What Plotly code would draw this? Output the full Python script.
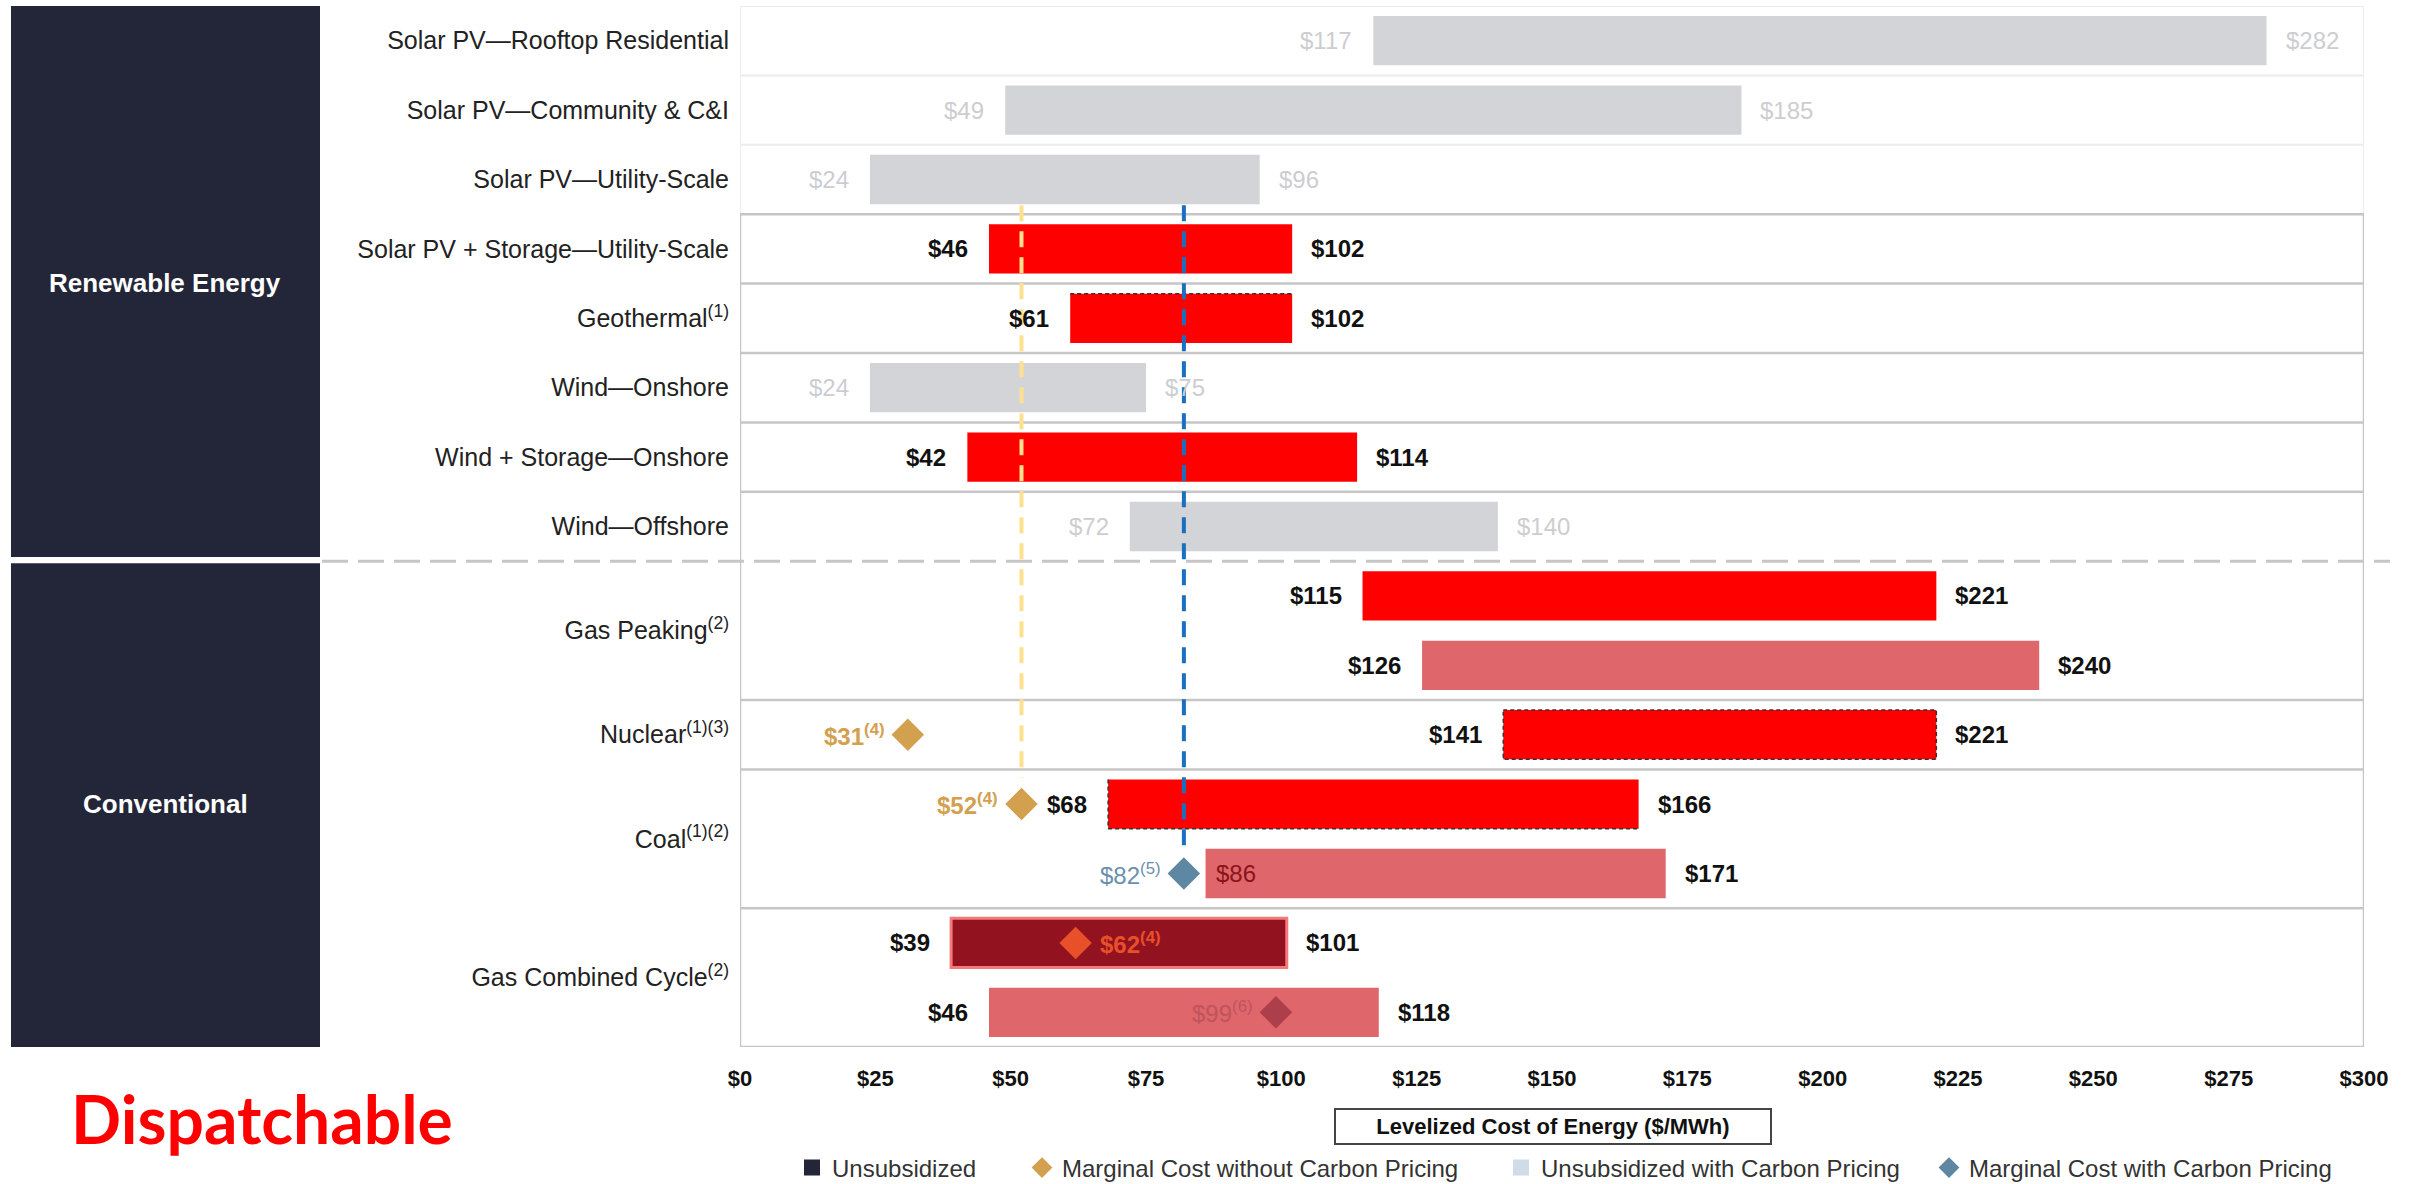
import plotly.graph_objects as go

# ---------------- data ----------------
row_labels = [
    "Solar PV—Rooftop Residential",
    "Solar PV—Community & C&I",
    "Solar PV—Utility-Scale",
    "Solar PV + Storage—Utility-Scale",
    "Geothermal<sup>(1)</sup>",
    "Wind—Onshore",
    "Wind + Storage—Onshore",
    "Wind—Offshore",
    "Gas Peaking<sup>(2)</sup>",
    "Nuclear<sup>(1)(3)</sup>",
    "Coal<sup>(1)(2)</sup>",
    "Gas Combined Cycle<sup>(2)</sup>",
]
row_bar_counts = [1, 1, 1, 1, 1, 1, 1, 1, 2, 1, 2, 2]

bar_low = [117, 49, 24, 46, 61, 24, 42, 72, 115, 126, 141, 68, 86, 39, 46]
bar_high = [282, 185, 96, 102, 102, 75, 114, 140, 221, 240, 221, 166, 171, 101, 118]
bar_kind = ["faded", "faded", "faded", "unsub", "unsub", "faded", "unsub", "faded",
            "unsub", "carbon", "unsub", "unsub", "carbon", "unsub_gcc", "carbon"]

marker_slot = [10, 11, 12, 13, 14]
marker_value = [31, 52, 82, 62, 99]
marker_text = ["$31<sup>(4)</sup>", "$52<sup>(4)</sup>", "$82<sup>(5)</sup>",
               "$62<sup>(4)</sup>", "$99<sup>(6)</sup>"]
marker_kind = ["nocarbon", "nocarbon", "carbon", "nocarbon_gcc", "carbon_gcc"]

x_ticks = [0, 25, 50, 75, 100, 125, 150, 175, 200, 225, 250, 275, 300]
x_ticktext = ["$" + str(v) for v in x_ticks]

legend_names = ["Unsubsidized", "Marginal Cost without Carbon Pricing",
                "Unsubsidized with Carbon Pricing", "Marginal Cost with Carbon Pricing"]

# ---------------- styles ----------------
FONT = "Liberation Sans, Arial, sans-serif"
fill = {"faded": "#d3d4d8", "unsub": "#ff0000", "carbon": "#df666b", "unsub_gcc": "#92121f"}
line_col = {"faded": "#d3d4d8", "unsub": "#ff0000", "carbon": "#df666b", "unsub_gcc": "#f47a7a"}
mk_color = {"nocarbon": "#d3a04f", "carbon": "#5e87a3", "nocarbon_gcc": "#e8502a", "carbon_gcc": "#ad3f4b"}
mk_text_color = {"nocarbon": "#d3a04f", "carbon": "#6a90ab", "nocarbon_gcc": "#e8502a", "carbon_gcc": "#c0545d"}
mk_weight = {"nocarbon": "bold", "carbon": "normal", "nocarbon_gcc": "bold", "carbon_gcc": "normal"}
BAR_W = 0.71
GRID = "#c6c6c6"
FAINT = "#ececec"

# slot positions
slots = list(range(len(bar_low)))
group_centers = []
s = 0
for c in row_bar_counts:
    group_centers.append(s + (c - 1) / 2)
    s += c

fig = go.Figure()

# bars by kind
for kind in ["faded", "unsub", "carbon", "unsub_gcc"]:
    idx = [i for i in slots if bar_kind[i] == kind]
    fig.add_trace(go.Bar(
        orientation="h",
        y=[slots[i] for i in idx],
        base=[bar_low[i] for i in idx],
        x=[bar_high[i] - bar_low[i] for i in idx],
        width=BAR_W,
        marker=dict(color=fill[kind], line=dict(color=line_col[kind], width=3 if kind == "unsub_gcc" else 0)),
        showlegend=False, hoverinfo="skip",
    ))

# diamonds
for kind in ["nocarbon", "carbon", "nocarbon_gcc", "carbon_gcc"]:
    idx = [i for i in range(len(marker_value)) if marker_kind[i] == kind]
    fig.add_trace(go.Scatter(
        x=[marker_value[i] for i in idx], y=[marker_slot[i] for i in idx],
        mode="markers", marker=dict(symbol="diamond", size=25, color=mk_color[kind]),
        showlegend=False, hoverinfo="skip",
    ))

# legend entries (4 separate legends for placement)
leg_styles = [
    dict(symbol="square", color="#232638"),
    dict(symbol="diamond", color="#d3a04f"),
    dict(symbol="square", color="#cfdce7"),
    dict(symbol="diamond", color="#5f87a1"),
]
leg_ids = ["legend", "legend2", "legend3", "legend4"]
leg_px = [792, 1022, 1501, 1929]
for name, st, lid in zip(legend_names, leg_styles, leg_ids):
    fig.add_trace(go.Scatter(
        x=[None], y=[None], mode="markers", name=name, legend=lid,
        marker=dict(symbol=st["symbol"], size=16, color=st["color"]),
        showlegend=True,
    ))

annotations = []
# bar value labels
for i in slots:
    k = bar_kind[i]
    if k == "faded":
        col, wt = "#cdcdd1", "normal"
    else:
        col, wt = "#111111", "bold"
    if k == "carbon" and i == 12:
        annotations.append(dict(x=bar_low[i], y=i, xref="x", yref="y", text="$%d" % bar_low[i],
                                xanchor="left", yanchor="middle", xshift=8, showarrow=False,
                                font=dict(family=FONT, size=24, color="#8a1418")))
    else:
        annotations.append(dict(x=bar_low[i], y=i, xref="x", yref="y", text="$%d" % bar_low[i],
                                xanchor="right", yanchor="middle", xshift=-19, showarrow=False,
                                font=dict(family=FONT, size=24, color=col, weight=wt)))
    annotations.append(dict(x=bar_high[i], y=i, xref="x", yref="y", text="$%d" % bar_high[i],
                            xanchor="left", yanchor="middle", xshift=17, showarrow=False,
                            font=dict(family=FONT, size=24, color=col, weight=wt)))

# marker labels
for i in range(len(marker_value)):
    k = marker_kind[i]
    right = (k == "nocarbon_gcc")
    annotations.append(dict(x=marker_value[i], y=marker_slot[i], xref="x", yref="y",
                            text=marker_text[i], showarrow=False, yanchor="middle",
                            xanchor="left" if right else "right",
                            xshift=22 if right else -21,
                            font=dict(family=FONT, size=24, color=mk_text_color[k], weight=mk_weight[k])))

def px_to_paper_x(px):
    return (px - 740) / 1624.0

def px_to_paper_y(py):
    return (1047 - py) / 1041.0

# section labels
annotations.append(dict(x=px_to_paper_x(165), y=3.49, xref="paper", yref="y",
                        xanchor="center", yanchor="middle",
                        text="Renewable Energy", showarrow=False,
                        font=dict(family=FONT, size=26, color="white", weight="bold")))
annotations.append(dict(x=px_to_paper_x(165), y=11.0, xref="paper", yref="y",
                        xanchor="center", yanchor="middle",
                        text="Conventional", showarrow=False,
                        font=dict(family=FONT, size=26, color="white", weight="bold")))
# axis title box
annotations.append(dict(x=px_to_paper_x(1553), y=px_to_paper_y(1126), xref="paper", yref="paper",
                        xanchor="center", yanchor="middle",
                        text="Levelized Cost of Energy ($/MWh)", showarrow=False,
                        width=434, height=33, bordercolor="#444444", borderwidth=2, borderpad=0,
                        bgcolor="white",
                        font=dict(family=FONT, size=22, color="#111111", weight="bold")))
# Dispatchable
annotations.append(dict(x=px_to_paper_x(262), y=px_to_paper_y(1118), xref="paper", yref="paper",
                        xanchor="center", yanchor="middle",
                        text="Dispatchable", showarrow=False,
                        font=dict(family="Lato, Open Sans, sans-serif", size=66, color="#ff0000",
                                  weight="bold")))

shapes = []
half = BAR_W / 2
# section boxes
shapes.append(dict(type="rect", xref="paper", yref="y", x0=px_to_paper_x(11), x1=px_to_paper_x(320),
                   y0=-0.5, y1=7.44, fillcolor="#232638", line=dict(width=0), layer="below"))
shapes.append(dict(type="rect", xref="paper", yref="y", x0=px_to_paper_x(11), x1=px_to_paper_x(320),
                   y0=7.53, y1=14.54, fillcolor="#232638", line=dict(width=0), layer="below"))
# faint top rows
for yy in [-0.5, 0.5, 1.5]:
    shapes.append(dict(type="line", xref="x", yref="y", x0=0, x1=300, y0=yy, y1=yy,
                       line=dict(color=FAINT, width=2), layer="below"))
for xx in [0, 300]:
    shapes.append(dict(type="line", xref="x", yref="y", x0=xx, x1=xx, y0=-0.5, y1=2.5,
                       line=dict(color=FAINT, width=2), layer="below"))
# grid lines
for yy in [2.5, 3.5, 4.5, 5.5, 6.5, 9.5, 10.5, 12.5, 14.5]:
    shapes.append(dict(type="line", xref="x", yref="y", x0=0, x1=300, y0=yy, y1=yy,
                       line=dict(color=GRID, width=2.5), layer="below"))
for xx in [0, 300]:
    shapes.append(dict(type="line", xref="x", yref="y", x0=xx, x1=xx, y0=2.5, y1=14.5,
                       line=dict(color=GRID, width=2.5), layer="below"))
# section separator
shapes.append(dict(type="line", xref="paper", yref="y", x0=px_to_paper_x(322), x1=px_to_paper_x(2390),
                   y0=7.5, y1=7.5, line=dict(color=GRID, width=3, dash="26px,10px"), layer="below"))
# dashed outlines on some bars
def edge(x0, x1, y0, y1):
    return dict(type="line", xref="x", yref="y", x0=x0, x1=x1, y0=y0, y1=y1,
                line=dict(color="#333333", width=1.5, dash="4px,3px"), layer="above")
i = 4
shapes.append(edge(bar_low[i], bar_high[i], i - half, i - half))
i = 10
shapes.append(dict(type="rect", xref="x", yref="y", x0=bar_low[i], x1=bar_high[i], y0=i - half, y1=i + half,
                   line=dict(color="#333333", width=1.5, dash="4px,3px"), layer="above"))
i = 11
shapes.append(edge(bar_low[i], bar_low[i], i - half, i + half))
shapes.append(edge(bar_low[i], bar_high[i], i + half, i + half))
# vertical reference lines through marginal costs
shapes.append(dict(type="line", xref="x", yref="y", x0=marker_value[1], x1=marker_value[1],
                   y0=2.37, y1=10.62, line=dict(color="#ffe08e", width=4, dash="16px,10px"), layer="above"))
shapes.append(dict(type="line", xref="x", yref="y", x0=marker_value[2], x1=marker_value[2],
                   y0=2.37, y1=11.6, line=dict(color="#1a70bf", width=4, dash="16px,10px"), layer="above"))

layout = dict(
    width=2414, height=1184,
    margin=dict(l=740, r=50, t=6, b=137, autoexpand=False),
    paper_bgcolor="white", plot_bgcolor="white",
    barmode="overlay",
    font=dict(family=FONT, size=22, color="#222222"),
    xaxis=dict(range=[0, 300], tickvals=x_ticks, ticktext=x_ticktext, showgrid=False, zeroline=False,
               showline=False, ticks="", ticklabelstandoff=16,
               tickfont=dict(family=FONT, size=22, color="#111111", weight="bold")),
    yaxis=dict(range=[14.5, -0.5], tickvals=group_centers, ticktext=row_labels, showgrid=False,
               zeroline=False, showline=False, ticks="", ticklabelstandoff=10,
               tickfont=dict(family=FONT, size=25, color="#222222")),
    shapes=shapes, annotations=annotations,
    showlegend=True,
)
leg_common = dict(orientation="h", yanchor="middle", xanchor="left", bgcolor="rgba(0,0,0,0)",
                  font=dict(family=FONT, size=24, color="#333333"), itemsizing="trace")
for lid, px in zip(leg_ids, leg_px):
    layout[lid] = dict(x=px_to_paper_x(px), y=px_to_paper_y(1168), **leg_common)

fig.update_layout(**layout)
fig.write_html("out.html")
